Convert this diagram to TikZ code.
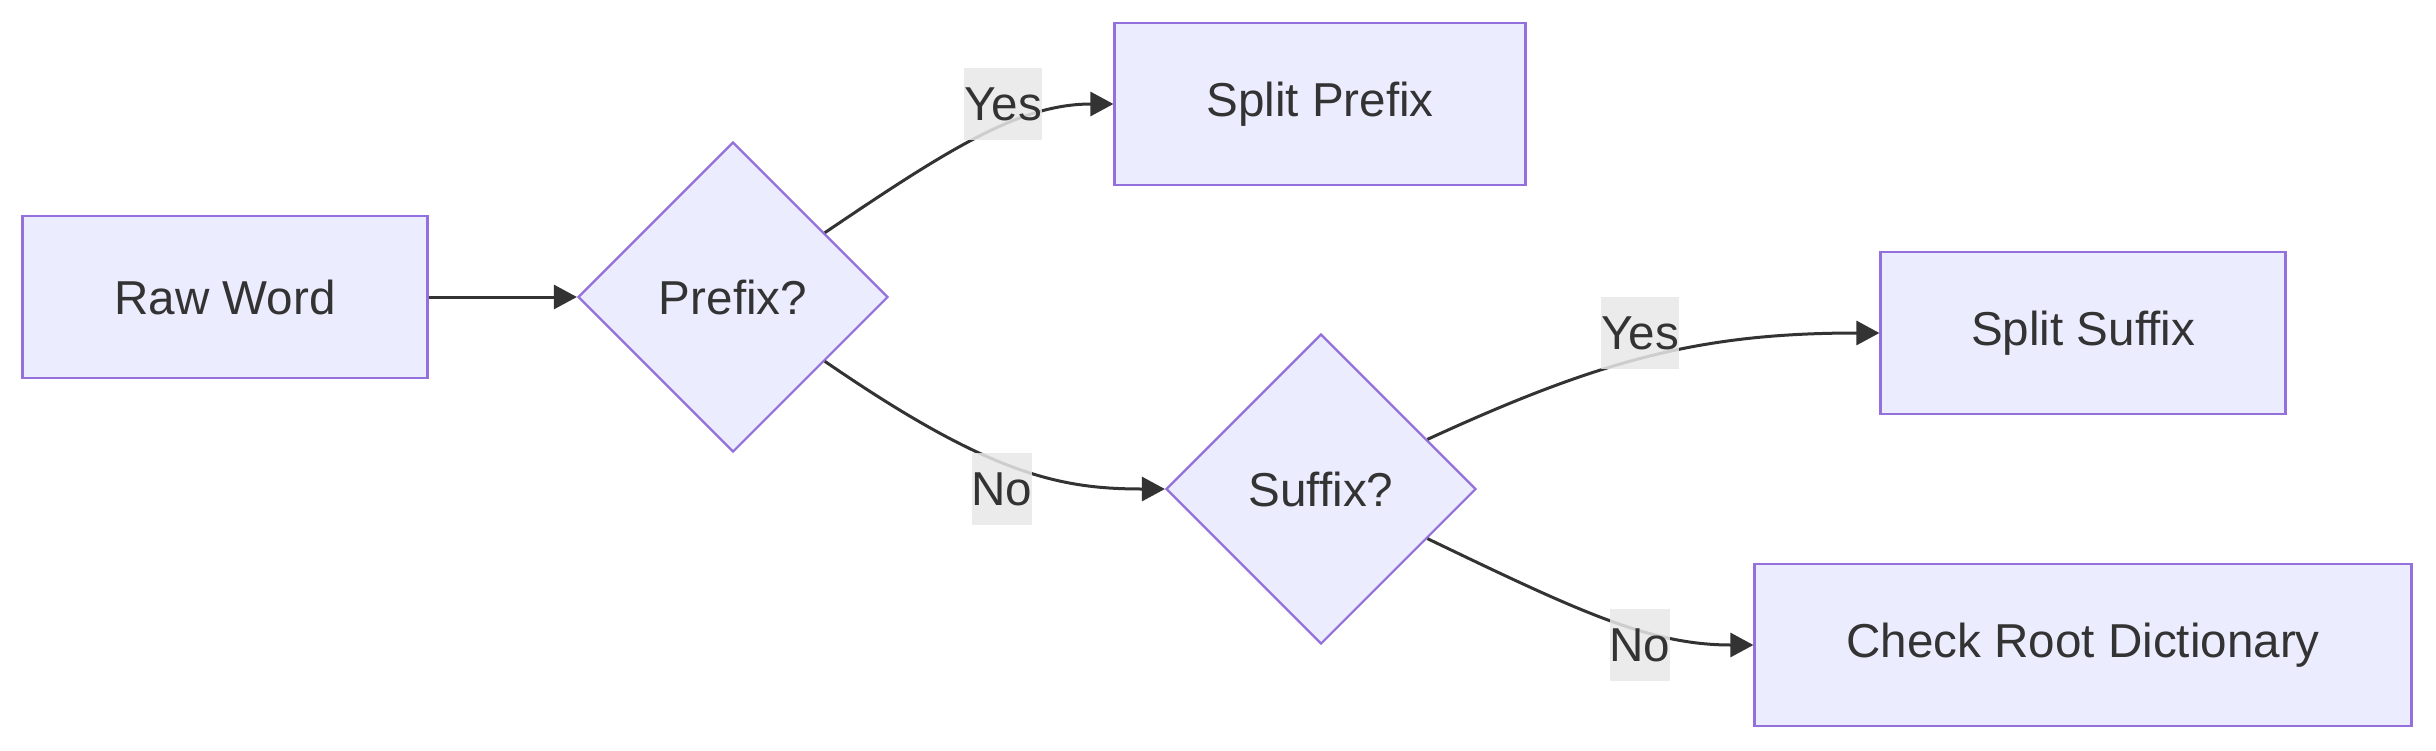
\documentclass[tikz,border=0pt]{standalone}
\usepackage{fontspec}
\setmainfont{Liberation Sans}
\usetikzlibrary{positioning,arrows.meta,shapes.geometric}
\definecolor{nodefill}{HTML}{ECECFF}
\definecolor{nodeline}{HTML}{9370DB}
\definecolor{ink}{HTML}{333333}
\definecolor{lblbg}{HTML}{E8E8E8}

\begin{document}
\begin{tikzpicture}[
  x=0.5pt, y=-0.5pt,
  font=\fontsize{23.8}{28}\selectfont,
  >={Triangle[length=11.5pt, width=12pt]},
  box/.style={draw=nodeline, fill=nodefill, line width=1.1pt, text=ink, minimum height=81pt, inner sep=0pt},
  decision/.style={diamond, aspect=1, draw=nodeline, fill=nodefill, line width=1.1pt, text=ink, minimum width=155pt, minimum height=155pt, inner sep=0pt},
  lbl/.style={fill=lblbg, fill opacity=0.85, text opacity=1, text=ink, inner sep=0pt, minimum height=36pt},
  link/.style={->, draw=ink, line width=1.5pt}
  ]
  \useasboundingbox (0,0) rectangle (2436,750);
  % nodes
  \node[box, minimum width=202.5pt] (raw) at (225,297) {Raw Word};
  \node[decision] (prefix) at (733,297) {Prefix?};
  \node[box, minimum width=205.5pt] (splitp) at (1320,104) {Split Prefix};
  \node[decision] (suffix) at (1321,489) {Suffix?};
  \node[box, minimum width=202.5pt] (splits) at (2083,333) {Split Suffix};
  \node[box, minimum width=328.5pt] (check) at (2083,645) {Check Root Dictionary};

  % edges
  \draw[link] (raw) -- (prefix);
  \draw[link] (prefix.35) .. controls (950,148) and (1020,104) .. (splitp.west);
  \draw[link] (prefix.-35) .. controls (990,475) and (1060,489) .. (suffix.west);
  \draw[link] (suffix.25) .. controls (1600,360) and (1700,333) .. (splits.west);
  \draw[link] (suffix.-25) .. controls (1580,612) and (1650,645) .. (check.west);

  % edge labels
  \node[lbl] (yesp) at (1003,104) {Yes};
  \node[lbl] (nop) at (1002,489) {No};
  \node[lbl] (yess) at (1640,333) {Yes};
  \node[lbl] (nos) at (1640,645) {No};
\end{tikzpicture}
\end{document}
